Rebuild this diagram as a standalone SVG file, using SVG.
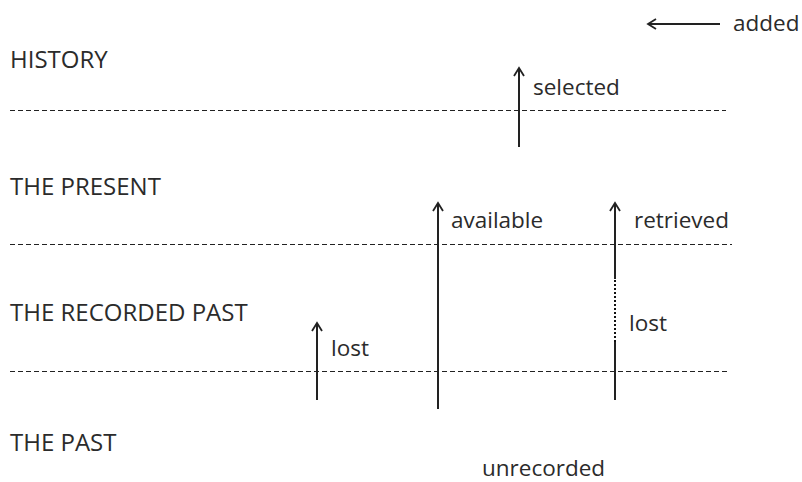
<svg xmlns="http://www.w3.org/2000/svg" width="802" height="482" viewBox="0 0 802 482">
  <style>
    text { font-family: "Open Sans", "Noto Sans", sans-serif; font-size: 22.5px; fill: #2b2b2b; }
    .caps { font-size: 24px; }
    .level { stroke: #222; stroke-width: 1; stroke-dasharray: 5 3; fill: none; }
    .flow { stroke: #222; stroke-width: 2; fill: none; }
    .gap { stroke: #111; stroke-width: 2; stroke-dasharray: 2 2; fill: none; }
  </style>
  <defs>
    <marker id="head" markerWidth="12" markerHeight="12" refX="10" refY="6" orient="auto" markerUnits="userSpaceOnUse">
      <path d="M2,1 L10,6 L2,11" fill="none" stroke="#222" stroke-width="1.8"/>
    </marker>
  </defs>
  <rect width="802" height="482" fill="#fff"/>

  <g id="levels">
    <g id="history"><text class="caps" x="10" y="68">HISTORY</text></g>
    <g id="present"><text class="caps" x="10" y="195">THE PRESENT</text></g>
    <g id="recorded-past"><text class="caps" x="10" y="321">THE RECORDED PAST</text></g>
    <g id="past"><text class="caps" x="10" y="451">THE PAST</text></g>
  </g>

  <g id="connectors">
    <line class="level" x1="10" y1="110.5" x2="726" y2="110.5"/>
    <line class="level" x1="10" y1="244.5" x2="732" y2="244.5"/>
    <line class="level" x1="10" y1="371.5" x2="729" y2="371.5"/>

    <line class="flow" x1="720" y1="24" x2="648" y2="24" marker-end="url(#head)"/>
    <line class="flow" x1="519" y1="147" x2="519" y2="68" marker-end="url(#head)"/>
    <line class="flow" x1="317" y1="400" x2="317" y2="323" marker-end="url(#head)"/>
    <line class="flow" x1="438" y1="409" x2="438" y2="203" marker-end="url(#head)"/>
    <line class="flow" x1="615" y1="400" x2="615" y2="342"/>
    <line class="gap" x1="615" y1="342" x2="615" y2="279"/>
    <line class="flow" x1="615" y1="279" x2="615" y2="203" marker-end="url(#head)"/>
  </g>

  <g id="labels">
    <text x="733" y="31">added</text>
    <text x="533" y="95">selected</text>
    <text x="451" y="228">available</text>
    <text x="634" y="228">retrieved</text>
    <text x="331" y="356">lost</text>
    <text x="629" y="331">lost</text>
    <text x="482" y="476">unrecorded</text>
  </g>
</svg>
